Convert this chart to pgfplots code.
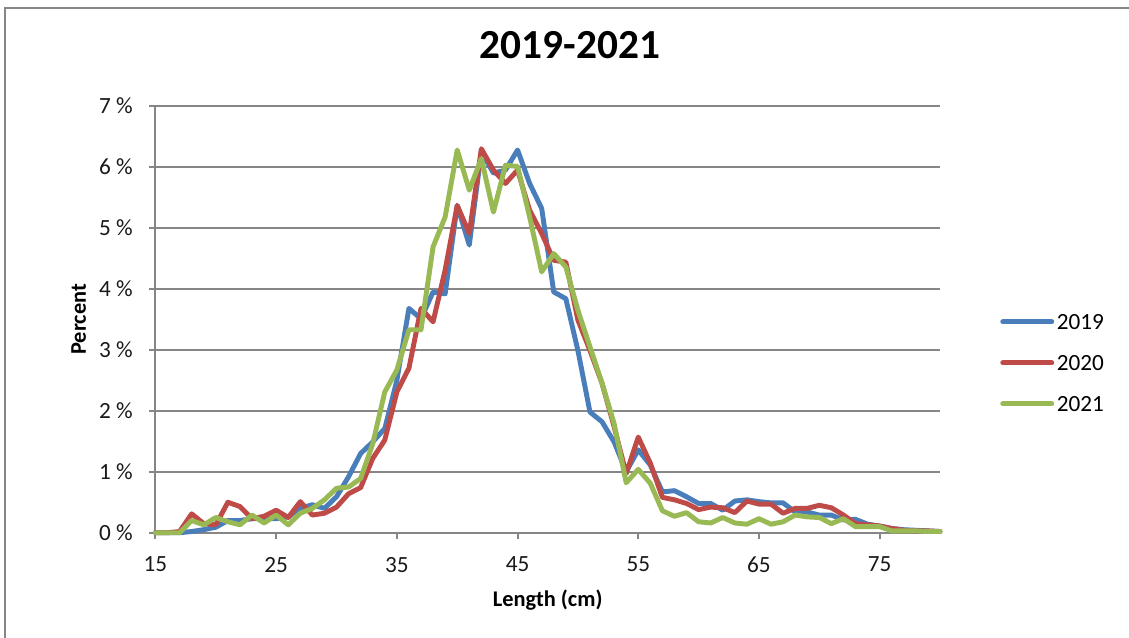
\documentclass[border=0pt]{standalone}
\usepackage{fontspec}
\setmainfont{Carlito}
\usepackage{pgfplots}
\pgfplotsset{compat=1.18}
\usepackage{pgfplotstable}
\definecolor{sblue}{HTML}{4A7EBB}
\definecolor{sred}{HTML}{BE4B48}
\definecolor{sgreen}{HTML}{98B954}
\definecolor{gridgray}{HTML}{868686}

\pgfplotstableread{
x y
15 0
16 0
17 0
18 0.02
19 0.05
20 0.09
21 0.2
22 0.2
23 0.23
24 0.23
25 0.23
26 0.26
27 0.4
28 0.46
29 0.4
30 0.59
31 0.92
32 1.3
33 1.49
34 1.71
35 2.5
36 3.68
37 3.51
38 3.95
39 3.92
40 5.37
41 4.72
42 6.25
43 5.9
44 5.95
45 6.28
46 5.73
47 5.32
48 3.95
49 3.84
50 2.99
51 1.98
52 1.82
53 1.49
54 1.0
55 1.36
56 1.11
57 0.67
58 0.69
59 0.59
60 0.48
61 0.48
62 0.37
63 0.52
64 0.54
65 0.51
66 0.49
67 0.49
68 0.34
69 0.34
70 0.29
71 0.29
72 0.21
73 0.22
74 0.14
75 0.11
76 0.07
77 0.05
78 0.04
79 0.03
80 0.02
}\dataA

\pgfplotstableread{
x y
15 0
16 0
17 0.02
18 0.31
19 0.15
20 0.13
21 0.5
22 0.43
23 0.23
24 0.27
25 0.37
26 0.25
27 0.51
28 0.29
29 0.32
30 0.42
31 0.64
32 0.74
33 1.22
34 1.52
35 2.31
36 2.7
37 3.68
38 3.46
39 4.31
40 5.37
41 4.91
42 6.3
43 5.95
44 5.73
45 5.95
46 5.29
47 4.91
48 4.47
49 4.44
50 3.49
51 2.99
52 2.45
53 1.74
54 0.97
55 1.57
56 1.14
57 0.58
58 0.54
59 0.48
60 0.38
61 0.42
62 0.41
63 0.33
64 0.52
65 0.47
66 0.47
67 0.32
68 0.4
69 0.4
70 0.45
71 0.41
72 0.29
73 0.15
74 0.13
75 0.11
76 0.07
77 0.04
78 0.03
79 0.03
80 0.02
}\dataB

\pgfplotstableread{
x y
15 0
16 0
17 0
18 0.2
19 0.13
20 0.25
21 0.18
22 0.13
23 0.29
24 0.16
25 0.29
26 0.13
27 0.32
28 0.4
29 0.54
30 0.73
31 0.75
32 0.89
33 1.46
34 2.31
35 2.67
36 3.33
37 3.33
38 4.69
39 5.18
40 6.28
41 5.62
42 6.14
43 5.26
44 6.03
45 6.01
46 5.18
47 4.28
48 4.58
49 4.36
50 3.65
51 3.05
52 2.45
53 1.79
54 0.82
55 1.04
56 0.81
57 0.36
58 0.27
59 0.33
60 0.18
61 0.16
62 0.25
63 0.16
64 0.14
65 0.23
66 0.14
67 0.18
68 0.29
69 0.26
70 0.25
71 0.15
72 0.23
73 0.1
74 0.1
75 0.1
76 0.03
77 0.03
78 0.03
79 0.02
80 0.02
}\dataC

\begin{document}
\begin{tikzpicture}
\useasboundingbox (0,0) rectangle (846.75pt,477.75pt);
\draw[gridgray, line width=1.3pt] (3.75pt,-2pt) -- (3.75pt,471.75pt) -- (850pt,471.75pt);
\begin{axis}[
  at={(116.6pt,78.2pt)}, anchor=south west,
  scale only axis,
  width=588.4pt, height=320pt,
  xmin=15, xmax=80, ymin=0, ymax=7,
  clip=false,
  axis x line*=bottom, axis y line*=left,
  axis line style={gridgray, line width=1.5pt},
  xtick={15,25,35,45,55,65,75},
  xticklabels={15,25,35,45,55,65,75},
  ytick={0,1,2,3,4,5,6,7},
  yticklabels={0 \%,1 \%,2 \%,3 \%,4 \%,5 \%,6 \%,7 \%},
  tick align=outside,
  major tick length=4.5pt,
  tick style={gridgray, line width=1.5pt},
  ymajorgrids,
  major grid style={gridgray, line width=1.5pt},
  ticklabel style={font=\fontsize{17.4}{21}\selectfont, text=black!90},
  yticklabel style={anchor=east, inner sep=0pt, xshift=-12.4pt},
  xticklabel style={anchor=north, inner sep=0pt, yshift=-13.5pt},
  title={\textbf{2019-2021}},
  title style={font=\fontsize{31}{36}\selectfont, at={(0.5284,1.092)}, anchor=base, inner sep=0pt},
  xlabel={\textbf{Length (cm)}},
  xlabel style={font=\fontsize{16.8}{20}\selectfont, at={(0.5,-0.174)}, anchor=base, inner sep=0pt},
  ylabel={\textbf{Percent}},
  ylabel style={font=\fontsize{16.8}{20}\selectfont, at={(-0.0886,0.5)}, anchor=base, inner sep=0pt},
  legend cell align=left,
  legend image code/.code={\draw[#1] (0pt,0pt) -- (36.75pt,0pt);},
  legend style={draw=none, fill=none, inner sep=0pt, at={(1.0765,0.512)}, anchor=north west,
    font=\fontsize{17.4}{21}\selectfont,
    nodes={inner sep=0pt, text height=11pt, text depth=0pt},
    row sep=19.75pt, column sep=2pt},
  every axis plot/.append style={line width=3.7pt, line join=round, line cap=round},
]
\addplot[sblue] table[x=x,y=y] {\dataA};
\addlegendentry{2019}
\addplot[sred] table[x=x,y=y] {\dataB};
\addlegendentry{2020}
\addplot[sgreen] table[x=x,y=y] {\dataC};
\addlegendentry{2021}
\end{axis}
\end{tikzpicture}
\end{document}
